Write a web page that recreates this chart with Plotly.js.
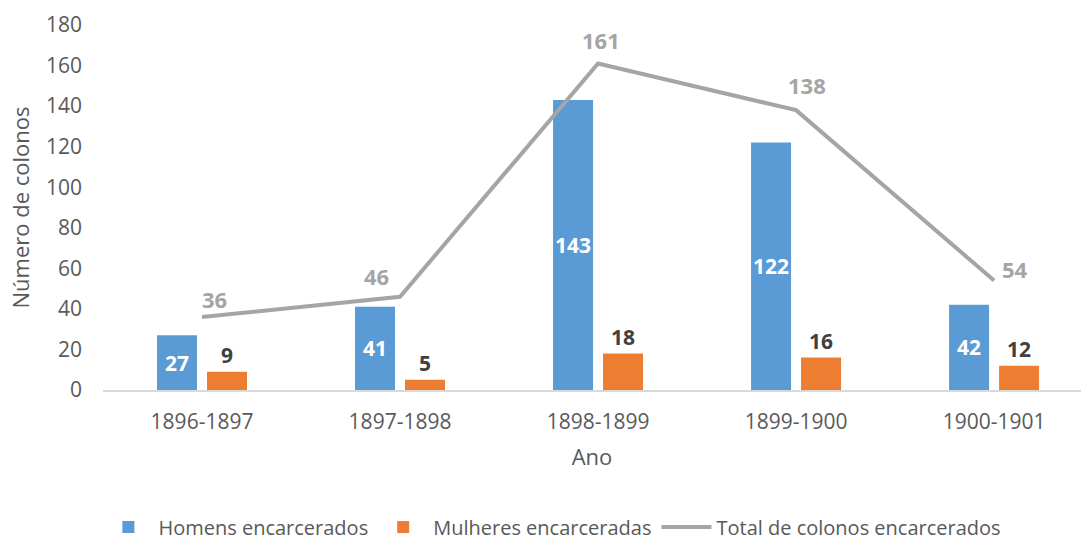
<!DOCTYPE html>
<html>
<head>
<meta charset="utf-8">
<script src="https://cdn.plot.ly/plotly-3.0.1.min.js"></script>
<style>html,body{margin:0;padding:0;background:#fff;}#chart{width:1081px;height:540px;}</style>
</head>
<body>
<div id="chart"></div>
<script>
var categories = ['1896-1897', '1897-1898', '1898-1899', '1899-1900', '1900-1901'];
var homens = [27, 41, 143, 122, 42];
var mulheres = [9, 5, 18, 16, 12];
var total = [36, 46, 161, 138, 54];
var seriesNames = ['Homens encarcerados', 'Mulheres encarceradas', 'Total de colonos encarcerados'];
// label offsets (px) for the total line's data labels
var totalLabelDx = [12, -24, 3, 11, 21];
var totalLabelDy = [18, 21, 24, 25, 12];

var FONT = 'Open Sans, sans-serif';

var traces = [
  {
    type: 'bar', name: seriesNames[0], x: categories, y: homens,
    marker: {color: '#5B9BD5'},
    text: homens.map(String), textposition: 'inside', insidetextanchor: 'middle',
    textangle: 0, constraintext: 'none',
    textfont: {family: FONT, size: 21, color: '#FFFFFF', weight: 'bold'}
  },
  {
    type: 'bar', name: seriesNames[1], x: categories, y: mulheres,
    marker: {color: '#ED7D31'},
    text: mulheres.map(String), textposition: 'outside', textangle: 0,
    constraintext: 'none', cliponaxis: false,
    textfont: {family: FONT, size: 21, color: '#404040', weight: 'bold'}
  },
  {
    type: 'scatter', mode: 'lines', name: seriesNames[2], x: categories, y: total,
    line: {color: '#A5A5A5', width: 4}, cliponaxis: false
  }
];

var annotations = categories.map(function (c, i) {
  return {
    x: c, y: total[i], xref: 'x', yref: 'y',
    text: String(total[i]), showarrow: false,
    xanchor: 'center', yanchor: 'middle',
    xshift: totalLabelDx[i], yshift: totalLabelDy[i],
    font: {family: FONT, size: 22, color: '#A5A5A5', weight: 'bold'}
  };
});

var layout = {
  width: 1081, height: 540,
  margin: {l: 103, r: 0, t: 25, b: 150},
  paper_bgcolor: '#ffffff', plot_bgcolor: '#ffffff',
  font: {family: FONT, color: '#595959', size: 20},
  barmode: 'group', bargap: 0.495, bargroupgap: 0.2,
  showlegend: true,
  annotations: annotations,
  xaxis: {
    type: 'category', range: [-0.5, 4.439],
    showgrid: false, zeroline: false,
    showline: true, linecolor: '#D9D9D9', linewidth: 1.5,
    ticks: '', ticklabelstandoff: 12,
    tickfont: {family: FONT, size: 21, color: '#595959'},
    title: {text: 'Ano', font: {family: FONT, size: 22, color: '#595959'}, standoff: 16}
  },
  yaxis: {
    range: [0, 180], dtick: 20, tick0: 0,
    showgrid: false, zeroline: false, showline: false,
    ticks: '', ticklabelstandoff: 20,
    tickfont: {family: FONT, size: 21, color: '#595959'},
    title: {text: 'Número de colonos', font: {family: FONT, size: 22, color: '#595959'}, standoff: 10}
  },
  legend: {
    orientation: 'h', xref: 'container', yref: 'container',
    x: 0.511, xanchor: 'center', y: 0.024, yanchor: 'middle',
    font: {family: FONT, size: 20, color: '#595959'},
    itemwidth: 50, traceorder: 'normal'
  }
};

Plotly.newPlot('chart', traces, layout, {displayModeBar: false, staticPlot: true});
</script>
</body>
</html>
